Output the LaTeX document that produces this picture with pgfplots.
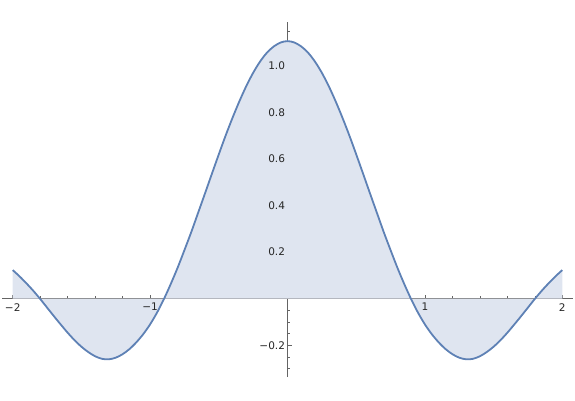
\documentclass[border=0pt]{standalone}
\usepackage{fontspec}
\setmainfont{DejaVu Sans}
\usepackage{pgfplots}
\pgfplotsset{compat=1.18}
\usepgfplotslibrary{fillbetween}
\definecolor{mline}{RGB}{94,129,181}
\definecolor{mfill}{RGB}{223,229,240}
\definecolor{maxis}{RGB}{100,100,100}
\pgfplotstableread{
x y
-2.00 0.123
-1.95 0.096
-1.90 0.066
-1.85 0.034
-1.80 -0.001
-1.75 -0.038
-1.70 -0.075
-1.65 -0.111
-1.60 -0.146
-1.55 -0.178
-1.50 -0.206
-1.45 -0.229
-1.40 -0.247
-1.35 -0.258
-1.30 -0.260
-1.25 -0.253
-1.20 -0.238
-1.15 -0.216
-1.10 -0.187
-1.05 -0.152
-1.00 -0.110
-0.95 -0.060
-0.90 -0.002
-0.85 0.063
-0.80 0.133
-0.75 0.209
-0.70 0.287
-0.65 0.370
-0.60 0.453
-0.55 0.537
-0.50 0.620
-0.45 0.701
-0.40 0.777
-0.35 0.848
-0.30 0.913
-0.25 0.970
-0.20 1.018
-0.15 1.056
-0.10 1.083
-0.05 1.100
0.00 1.106
0.05 1.100
0.10 1.083
0.15 1.056
0.20 1.018
0.25 0.970
0.30 0.913
0.35 0.848
0.40 0.777
0.45 0.701
0.50 0.620
0.55 0.537
0.60 0.453
0.65 0.370
0.70 0.287
0.75 0.209
0.80 0.133
0.85 0.063
0.90 -0.002
0.95 -0.060
1.00 -0.110
1.05 -0.152
1.10 -0.187
1.15 -0.216
1.20 -0.238
1.25 -0.253
1.30 -0.260
1.35 -0.258
1.40 -0.247
1.45 -0.229
1.50 -0.206
1.55 -0.178
1.60 -0.146
1.65 -0.111
1.70 -0.075
1.75 -0.038
1.80 -0.001
1.85 0.034
1.90 0.066
1.95 0.096
2.00 0.123
}\curve
\begin{document}
\begin{tikzpicture}
\begin{axis}[
  at={(0,0)}, anchor=south west,
  scale only axis, width=571pt, height=355pt,
  xmin=-2.078, xmax=2.078, ymin=-0.336, ymax=1.188,
  axis lines=middle,
  axis line style={maxis, line width=0.8pt, -},
  tick align=inside,
  major tick length=4pt, minor tick length=2.5pt,
  every tick/.style={maxis, line width=0.6pt},
  xtick={-2,-1,1,2},
  xticklabels={−2,−1,1,2},
  minor xtick={-1.8,-1.6,-1.4,-1.2,-0.8,-0.6,-0.4,-0.2,0.2,0.4,0.6,0.8,1.2,1.4,1.6,1.8},
  ytick={-0.2,0.2,0.4,0.6,0.8,1.0},
  yticklabels={−0.2,0.2,0.4,0.6,0.8,1.0},
  minor ytick={-0.3,-0.25,-0.15,-0.1,-0.05,0.05,0.1,0.15,0.25,0.3,0.35,0.45,0.5,0.55,0.65,0.7,0.75,0.85,0.9,0.95,1.05,1.1,1.15},
  tick label style={font=\fontsize{10.5}{12}\selectfont, text=black!85},
  /pgf/number format/assume math mode=true,
  xticklabel style={yshift=-1pt},
  yticklabel style={xshift=1pt},
]
\addplot[name path=f, draw=none, smooth] table[x=x,y=y] {\curve};
\addplot[name path=zero, draw=none] coordinates {(-2,0) (2,0)};
\addplot[mfill, draw=none] fill between[of=f and zero];
\addplot[mline, line width=1.8pt, smooth] table[x=x,y=y] {\curve};
\end{axis}
\pgfresetboundingbox
\useasboundingbox (-2pt,-23pt) rectangle (573pt,377pt);
\end{tikzpicture}
\end{document}
